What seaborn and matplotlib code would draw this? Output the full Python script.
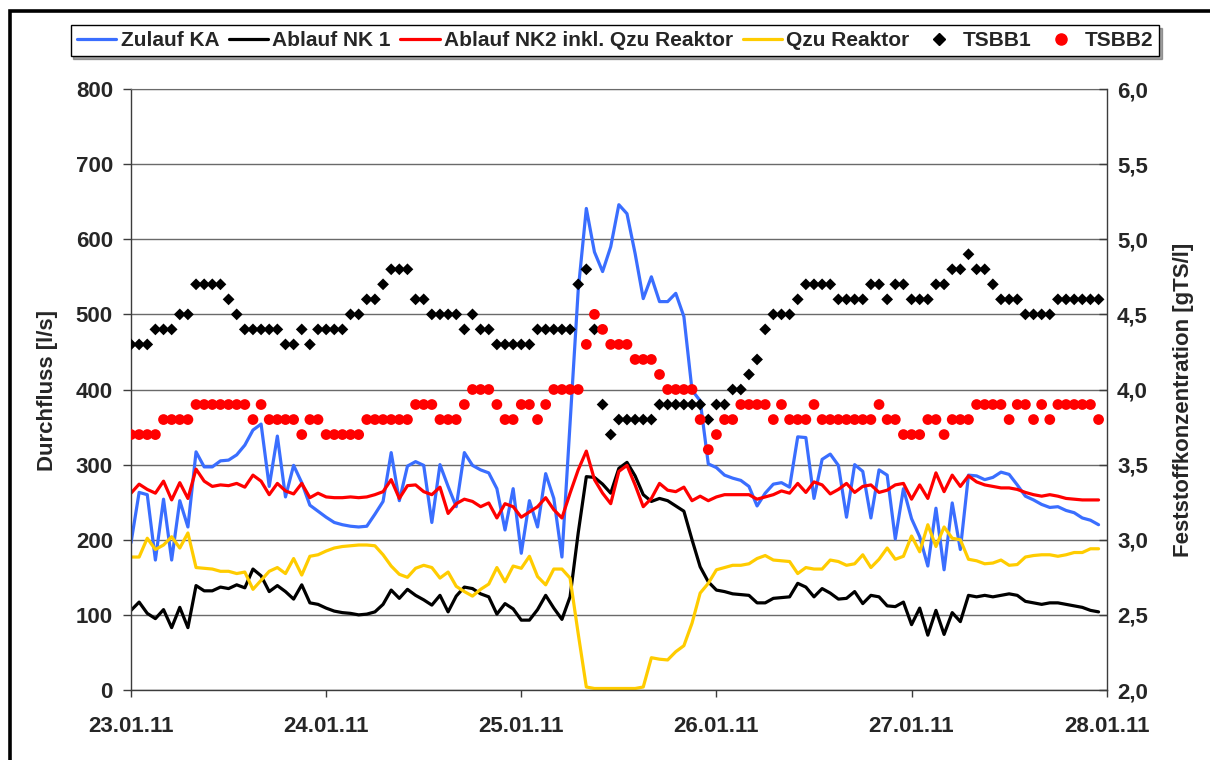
import pandas as pd
import matplotlib
matplotlib.use("Agg")
import matplotlib.pyplot as plt
import matplotlib.dates as mdates
from matplotlib.lines import Line2D
from matplotlib.patches import Rectangle
from matplotlib.ticker import FuncFormatter, MultipleLocator
import seaborn as sns

# Hourly measurements, 23.01.2011 00:00 - 27.01.2011 23:00
zeit = pd.date_range("2011-01-23 00:00", periods=120, freq="h")

# Flows [l/s]
zulauf_ka = [
    196, 263, 260, 173, 254, 173, 252, 217, 317, 297,
    297, 305, 306, 313, 326, 346, 354, 271, 338, 257,
    299, 276, 246, 238, 230, 223, 220, 218, 217, 218,
    234, 251, 316, 252, 298, 304, 299, 223, 300, 271,
    244, 316, 299, 293, 289, 268, 213, 268, 182, 252,
    217, 288, 255, 177, 355, 532, 641, 583, 557, 590,
    646, 634, 581, 521, 550, 517, 517, 528, 497, 399,
    385, 301, 296, 286, 282, 279, 271, 245, 262, 274,
    276, 270, 337, 336, 255, 307, 314, 299, 230, 300,
    291, 229, 293, 286, 201, 268, 228, 204, 165, 242,
    160, 249, 187, 286, 285, 280, 283, 290, 287, 273,
    258, 253, 247, 243, 244, 239, 236, 229, 226, 220,
]
ablauf_nk1 = [
    106, 117, 102, 95, 107, 83, 110, 83, 139, 132,
    132, 137, 135, 140, 136, 161, 152, 131, 139, 131,
    121, 140, 116, 114, 109, 105, 103, 102, 100, 101,
    104, 114, 133, 122, 134, 126, 120, 113, 126, 104,
    125, 137, 135, 128, 124, 101, 115, 108, 93, 93,
    107, 126, 109, 94, 124, 209, 284, 283, 274, 262,
    295, 303, 285, 260, 251, 255, 252, 245, 238, 200,
    164, 144, 133, 131, 128, 127, 126, 116, 116, 122,
    123, 124, 142, 137, 124, 135, 129, 121, 122, 131,
    115, 126, 124, 112, 111, 117, 87, 109, 73, 106,
    74, 103, 91, 126, 124, 126, 124, 126, 128, 126,
    118, 116, 114, 116, 116, 114, 112, 110, 106, 104,
]
ablauf_nk2 = [
    262, 274, 267, 262, 278, 253, 276, 255, 294, 278,
    271, 273, 272, 275, 270, 286, 278, 260, 275, 265,
    261, 275, 256, 262, 257, 256, 256, 257, 256, 257,
    260, 264, 280, 255, 272, 273, 264, 260, 270, 235,
    248, 254, 251, 244, 249, 229, 248, 244, 230, 237,
    244, 256, 240, 229, 262, 293, 318, 280, 262, 248,
    291, 299, 273, 244, 255, 275, 266, 264, 270, 252,
    258, 252, 257, 260, 260, 260, 260, 254, 257, 260,
    265, 262, 275, 263, 277, 273, 261, 267, 275, 263,
    271, 273, 263, 266, 273, 275, 254, 273, 255, 289,
    264, 286, 271, 285, 277, 273, 271, 269, 269, 267,
    263, 260, 258, 260, 258, 255, 254, 253, 253, 253,
]
qzu_reaktor = [
    177, 177, 202, 187, 193, 204, 189, 209, 163, 162,
    161, 158, 158, 155, 157, 134, 146, 158, 163, 155,
    175, 153, 178, 180, 185, 189, 191, 192, 193, 193,
    192, 180, 165, 154, 150, 162, 166, 163, 149, 157,
    138, 131, 125, 134, 141, 163, 144, 165, 162, 178,
    151, 140, 161, 161, 149, 75, 4, 2, 2, 2,
    2, 2, 2, 4, 43, 41, 40, 51, 59, 89,
    129, 142, 160, 163, 166, 166, 168, 175, 179, 173,
    172, 171, 155, 163, 161, 161, 173, 171, 166, 168,
    180, 163, 174, 189, 174, 178, 205, 184, 220, 191,
    217, 202, 200, 174, 172, 168, 169, 173, 166, 167,
    177, 179, 180, 180, 178, 180, 183, 183, 188, 188,
]

# Solids concentration [gTS/l]
tsbb1 = [
    4.3, 4.3, 4.3, 4.4, 4.4, 4.4, 4.5, 4.5, 4.7, 4.7,
    4.7, 4.7, 4.6, 4.5, 4.4, 4.4, 4.4, 4.4, 4.4, 4.3,
    4.3, 4.4, 4.3, 4.4, 4.4, 4.4, 4.4, 4.5, 4.5, 4.6,
    4.6, 4.7, 4.8, 4.8, 4.8, 4.6, 4.6, 4.5, 4.5, 4.5,
    4.5, 4.4, 4.5, 4.4, 4.4, 4.3, 4.3, 4.3, 4.3, 4.3,
    4.4, 4.4, 4.4, 4.4, 4.4, 4.7, 4.8, 4.4, 3.9, 3.7,
    3.8, 3.8, 3.8, 3.8, 3.8, 3.9, 3.9, 3.9, 3.9, 3.9,
    3.9, 3.8, 3.9, 3.9, 4.0, 4.0, 4.1, 4.2, 4.4, 4.5,
    4.5, 4.5, 4.6, 4.7, 4.7, 4.7, 4.7, 4.6, 4.6, 4.6,
    4.6, 4.7, 4.7, 4.6, 4.7, 4.7, 4.6, 4.6, 4.6, 4.7,
    4.7, 4.8, 4.8, 4.9, 4.8, 4.8, 4.7, 4.6, 4.6, 4.6,
    4.5, 4.5, 4.5, 4.5, 4.6, 4.6, 4.6, 4.6, 4.6, 4.6,
]
tsbb2 = [
    3.7, 3.7, 3.7, 3.7, 3.8, 3.8, 3.8, 3.8, 3.9, 3.9,
    3.9, 3.9, 3.9, 3.9, 3.9, 3.8, 3.9, 3.8, 3.8, 3.8,
    3.8, 3.7, 3.8, 3.8, 3.7, 3.7, 3.7, 3.7, 3.7, 3.8,
    3.8, 3.8, 3.8, 3.8, 3.8, 3.9, 3.9, 3.9, 3.8, 3.8,
    3.8, 3.9, 4.0, 4.0, 4.0, 3.9, 3.8, 3.8, 3.9, 3.9,
    3.8, 3.9, 4.0, 4.0, 4.0, 4.0, 4.3, 4.5, 4.4, 4.3,
    4.3, 4.3, 4.2, 4.2, 4.2, 4.1, 4.0, 4.0, 4.0, 4.0,
    3.8, 3.6, 3.7, 3.8, 3.8, 3.9, 3.9, 3.9, 3.9, 3.8,
    3.9, 3.8, 3.8, 3.8, 3.9, 3.8, 3.8, 3.8, 3.8, 3.8,
    3.8, 3.8, 3.9, 3.8, 3.8, 3.7, 3.7, 3.7, 3.8, 3.8,
    3.7, 3.8, 3.8, 3.8, 3.9, 3.9, 3.9, 3.9, 3.8, 3.9,
    3.9, 3.8, 3.9, 3.8, 3.9, 3.9, 3.9, 3.9, 3.9, 3.8,
]

line_names = ["Zulauf KA", "Ablauf NK 1", "Ablauf NK2 inkl. Qzu Reaktor", "Qzu Reaktor"]
line_colors = ["#3A6EFF", "#000000", "#FF0000", "#FFCC00"]
day_ticks = pd.date_range("2011-01-23", "2011-01-28", freq="D")

sns.set_style("white")
plt.rcParams["font.family"] = ["Liberation Sans", "DejaVu Sans"]
plt.rcParams["font.weight"] = "bold"

grid_col = "#6a6a6a"
axis_col = "#3c3c3c"

fig = plt.figure(figsize=(12.1, 7.6), dpi=100)
ax = fig.add_axes([131 / 1210, 1 - 690 / 760, (1106.7 - 131) / 1210, (690 - 89) / 760])

flows = pd.DataFrame({"Zeit": zeit, "Zulauf KA": zulauf_ka, "Ablauf NK 1": ablauf_nk1,
                      "Ablauf NK2 inkl. Qzu Reaktor": ablauf_nk2, "Qzu Reaktor": qzu_reaktor})
flows_long = flows.melt(id_vars="Zeit", var_name="Serie", value_name="Durchfluss")
sns.lineplot(data=flows_long, x="Zeit", y="Durchfluss", hue="Serie", hue_order=line_names,
             palette=line_colors, linewidth=2.3, estimator=None, legend=False, ax=ax)

ax.set_xlim(day_ticks[0], day_ticks[-1])
ax.set_ylim(0, 800)
ax.yaxis.set_major_locator(MultipleLocator(100))
ax.set_xticks(day_ticks)
ax.xaxis.set_major_formatter(mdates.DateFormatter("%d.%m.%y"))
ax.grid(axis="y", color=grid_col, linewidth=1.0)
ax.grid(axis="x", visible=False)
ax.set_xlabel("")
ax.set_ylabel("")
ax.tick_params(axis="y", direction="out", length=5.5, width=1, color=axis_col, pad=7.5,
               labelsize=16, left=True)
ax.tick_params(axis="x", direction="out", length=5, width=1, color=axis_col, pad=14,
               labelsize=16, bottom=True)
for name in ("left", "bottom"):
    ax.spines[name].set_color(axis_col)
    ax.spines[name].set_linewidth(1.0)
ax.spines["top"].set_color(grid_col)
ax.spines["right"].set_visible(False)

# Secondary axis: solids concentration in the two aeration tanks
ax2 = ax.twinx()
sns.scatterplot(x=zeit, y=tsbb1, marker="D", color="black", s=36, edgecolor="none",
                linewidth=0, ax=ax2, zorder=3)
sns.scatterplot(x=zeit, y=tsbb2, marker="o", color="#FF0000", s=60, edgecolor="none",
                linewidth=0, ax=ax2, zorder=3)
ax2.set_ylim(2.0, 6.0)
ax2.yaxis.set_major_locator(MultipleLocator(0.5))
ax2.yaxis.set_major_formatter(FuncFormatter(lambda v, p: f"{v:.1f}".replace(".", ",")))
ax2.set_ylabel("")
ax2.tick_params(axis="y", direction="in", length=6, width=1, color=axis_col, pad=7.5,
                labelsize=16, right=True)
for name in ("left", "bottom", "top"):
    ax2.spines[name].set_visible(False)
ax2.spines["right"].set_color(axis_col)
ax2.spines["right"].set_linewidth(1.0)
ax2.grid(False)

fig.text(48 / 1210, 1 - 390 / 760, "Durchfluss [l/s]", rotation=90, ha="center", va="center",
         fontsize=16, fontweight="bold")
fig.text(1184 / 1210, 1 - 400 / 760, "Feststoffkonzentration [gTS/l]", rotation=90,
         ha="center", va="center", fontsize=16, fontweight="bold")

handles = [Line2D([], [], color=c, linewidth=2.3) for c in line_colors]
handles += [Line2D([], [], color="black", marker="D", linestyle="none", markersize=6),
            Line2D([], [], color="#FF0000", marker="o", linestyle="none", markersize=8)]
labels = line_names + ["TSBB1", "TSBB2"]
leg = fig.legend(handles, labels, loc="center", bbox_to_anchor=(615 / 1210, 1 - 40.5 / 760),
                 ncol=6, frameon=True, fancybox=False, shadow=True, framealpha=1,
                 edgecolor="black", handlelength=1.9, handletextpad=0.2, columnspacing=0.45,
                 borderpad=0.3, borderaxespad=0, prop={"weight": "bold", "size": 15})
leg.get_frame().set_linewidth(1.0)

# Outer frame of the chart area
fig.add_artist(Rectangle((10 / 1210, -0.1), 1.2, 1 - 11 / 760 + 0.1, transform=fig.transFigure,
                         fill=False, edgecolor="black", linewidth=2.6, clip_on=False))

fig.savefig("out.png", dpi=100)
